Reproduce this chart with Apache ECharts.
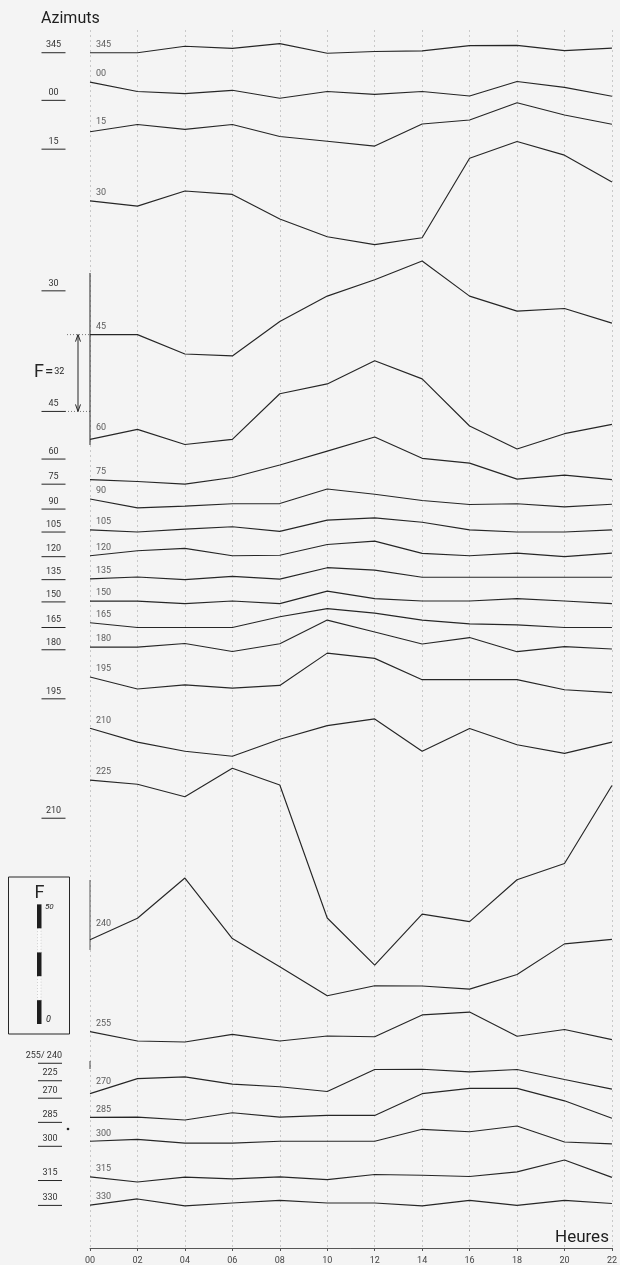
<!DOCTYPE html>
<html><head><meta charset="utf-8">
<script src="https://cdn.jsdelivr.net/npm/echarts@6/dist/echarts.min.js"></script>
<style>html,body{margin:0;padding:0;background:#f4f4f4;}#c{width:620px;height:1265px;}</style>
</head><body><div id="c"></div>
<script>
// Hours of observation
const hours = ['00','02','04','06','08','10','12','14','16','18','20','22'];
// Curve levels in F units above the time axis, per azimuth
const azimuthNames = ['345','00','15','30','45','60','75','90','105','120','135','150','165','180','195','210','225','240','255','270','285','300','315','330'];
const az345 = [499.5,499.5,502.2,501.3,503.3,499.3,500.0,500.3,502.5,502.6,500.4,501.4];
const az000 = [487.2,483.3,482.4,483.8,480.5,483.3,482.1,483.3,481.4,487.5,485.0,481.3];
const az015 = [466.5,469.5,467.5,469.5,464.5,462.5,460.5,469.7,471.4,478.6,473.5,469.6];
const az030 = [437.6,435.4,441.7,440.3,430.0,422.6,419.3,422.2,455.4,462.4,456.7,445.5];
const az045 = [381.7,381.7,373.6,372.8,387.2,397.8,404.6,412.5,397.8,391.5,392.6,386.5];
const az060 = [337.9,342.1,335.8,337.9,357.0,361.1,370.8,363.2,343.5,333.9,340.3,344.2];
const az075 = [321.1,320.3,319.2,322.0,327.2,333.0,338.9,330.0,328.0,321.3,323.0,321.1];
const az090 = [313.0,309.3,310.0,311.0,311.1,317.2,315.0,312.4,310.7,311.0,309.7,310.8];
const az105 = [300.1,299.2,300.4,301.4,299.5,304.2,305.1,303.3,300.1,299.2,299.2,300.1];
const az120 = [289.3,291.4,292.4,289.3,289.5,294.0,295.4,290.3,289.3,290.4,288.9,290.4];
const az135 = [279.6,280.4,279.3,280.7,279.5,284.3,283.3,280.3,280.3,280.3,280.3,280.3];
const az150 = [270.3,270.3,269.3,270.4,269.3,274.5,271.4,270.4,270.4,271.4,270.4,269.3];
const az165 = [261.3,259.3,259.3,259.3,263.8,267.2,265.3,262.4,260.8,260.4,259.3,259.3];
const az180 = [251.1,251.1,252.6,249.3,252.5,262.4,257.4,252.4,255.1,249.2,251.3,250.3];
const az195 = [238.6,233.6,235.3,234.0,235.1,248.6,246.4,237.5,237.5,237.5,233.3,232.1];
const az210 = [217.2,211.4,207.6,205.5,212.6,218.3,221.1,207.6,217.1,210.3,206.7,211.4];
const az225 = [195.5,193.8,188.6,200.5,193.5,137.9,118.2,139.5,136.4,153.9,160.7,193.3];
const az240 = [128.8,137.8,154.6,129.3,117.5,105.4,109.6,109.5,108.2,114.3,127.1,129.0];
const az255 = [90.4,86.5,86.1,89.3,86.5,88.6,88.3,97.4,98.6,88.5,91.3,87.1];
const az270 = [64.5,70.8,71.5,68.5,67.4,65.4,74.6,74.7,73.6,74.6,70.4,66.4];
const az285 = [54.6,54.7,53.5,56.5,54.7,55.4,55.4,64.5,66.7,66.7,61.5,54.2];
const az300 = [44.6,45.4,43.8,43.8,44.6,44.6,44.6,49.6,48.6,51.0,44.3,43.5];
const az315 = [29.7,27.6,29.6,28.9,29.7,28.6,30.7,30.4,29.9,31.8,36.8,29.5];
const az330 = [17.9,20.5,17.6,18.8,19.9,18.8,18.8,17.6,19.9,17.8,19.9,18.6];
// Reference (zero) marks drawn in the left margin
const baselineLabels = ['345','00','15','30','45','60','75','90','105','120','135','150','165','180','195','210','255/ 240','225','270','285','300','315','330'];
const baselineLevels = [499.5,479.6,459.2,400.0,349.6,329.7,319.2,308.8,299.2,288.9,279.3,270.0,259.3,250.0,229.5,179.6,77.2,69.9,62.6,52.5,42.5,28.2,17.8];
// F scale
const scaleMax = 50;
const scaleLabels = ['50','0'];

const allLevels = [az345,az000,az015,az030,az045,az060,az075,az090,az105,az120,az135,az150,az165,az180,az195,az210,az225,az240,az255,az270,az285,az300,az315,az330];
// extra lift (px) of a few curve-name labels that sit higher above their curve start
const labelLift = {'15':-10, '60':-12, '240':-16, '270':-12};

const chart = echarts.init(document.getElementById('c'), null, {renderer:'canvas'});
const ink = '#262626';
const series = allLevels.map((d, i) => ({
  type:'line', name:azimuthNames[i], data:d, showSymbol:false, symbol:'none',
  lineStyle:{color:ink, width:1.15}, silent:true, z:3
}));
series.push({
  type:'scatter', name:'startLabels', symbolSize:0, silent:true, z:4,
  data: allLevels.map((d, i) => ({value:[0, d[0]], name:azimuthNames[i],
    label:{offset:[1, labelLift[azimuthNames[i]] !== undefined ? labelLift[azimuthNames[i]] : -8]}})),
  label:{show:true, position:'right', fontSize:9, color:'#333', fontFamily:'Roboto',
    formatter: p => p.name}
});
series.push({
  type:'custom', name:'baselines', silent:true, z:4, clip:false,
  data: baselineLevels.map((v, i) => [0, v, i]),
  renderItem: (params, api) => {
    const p = api.coord([0, api.value(1)]);
    const idx = api.value(2);
    const lower = api.value(1) < 100;
    const xa = lower ? p[0]-52 : p[0]-48.5;
    const xb = lower ? p[0]-28 : p[0]-24.5;
    const lab = baselineLabels[idx];
    const slash = lab.indexOf('/') >= 0;
    return {type:'group', children:[
      {type:'line', shape:{x1:xa, y1:p[1], x2:xb, y2:p[1]}, style:{stroke:ink, lineWidth:1}},
      {type:'text', x: slash ? xb : (xa+xb)/2, y:p[1]-3,
        style:{text:lab, fill:'#333', font:'9px Roboto', align: slash ? 'right' : 'center', verticalAlign:'bottom'}}
    ]};
  }
});

chart.setOption({
  backgroundColor:'#f4f4f4',
  animation:false,
  grid:{left:90, right:3, top:30, bottom:13},
  xAxis:{type:'category', data:hours, boundaryGap:false,
    axisLine:{show:true, lineStyle:{color:'#555', width:1}},
    axisTick:{show:true, length:3, lineStyle:{color:'#555'}},
    axisLabel:{fontSize:9, color:'#444', margin:8, fontFamily:'Roboto', showMaxLabel:true},
    splitLine:{show:true, lineStyle:{color:'#ababab', width:0.6, type:[2,3]}}},
  yAxis:{type:'value', min:0, max:509, show:false, splitLine:{show:false}},
  series: series
});

const yPx = v => chart.convertToPixel({yAxisIndex:0}, v);
const x0 = chart.convertToPixel({xAxisIndex:0}, 0);
const yTop = yPx(az045[0]);
const yBot = yPx(baselineLevels[4]);
const bx = 78;
const barBottom = 1024;
const unitPx = yPx(0) - yPx(1);
const segLen = scaleMax/5*unitPx;
const g = [
  {type:'text', x:41, y:19, style:{text:'Azimuts', font:'16px Roboto', fill:'#1e1e1e', verticalAlign:'middle'}},
  {type:'text', x:555, y:1238, style:{text:'Heures', font:'17px Roboto', fill:'#1e1e1e', verticalAlign:'middle'}},
  // F = 32 bracket
  {type:'line', shape:{x1:bx, y1:yTop, x2:bx, y2:yBot}, style:{stroke:ink, lineWidth:1}},
  {type:'polyline', shape:{points:[[bx-2.5,yTop+7],[bx,yTop],[bx+2.5,yTop+7]]}, style:{stroke:ink, lineWidth:1, fill:null}},
  {type:'polyline', shape:{points:[[bx-2.5,yBot-7],[bx,yBot],[bx+2.5,yBot-7]]}, style:{stroke:ink, lineWidth:1, fill:null}},
  {type:'line', shape:{x1:67, y1:yTop, x2:x0, y2:yTop}, style:{stroke:'#555', lineWidth:0.8, lineDash:[1,2]}},
  {type:'line', shape:{x1:65, y1:yBot, x2:x0, y2:yBot}, style:{stroke:'#555', lineWidth:0.8, lineDash:[1,2]}},
  {type:'line', shape:{x1:x0, y1:273, x2:x0, y2:445}, style:{stroke:ink, lineWidth:1}},
  {type:'line', shape:{x1:x0, y1:880, x2:x0, y2:950}, style:{stroke:'#444', lineWidth:0.9}},
  {type:'line', shape:{x1:x0, y1:1061, x2:x0, y2:1069}, style:{stroke:'#444', lineWidth:1}},
  {type:'text', x:34, y:(yTop+yBot)/2+8, style:{
    text:'{f|F}{e|=}{n|32}', verticalAlign:'bottom', fill:ink,
    rich:{f:{fontSize:18, fontFamily:'Roboto', fill:ink}, e:{fontSize:15, fontFamily:'Roboto', fill:ink, padding:[0,1,0,1]}, n:{fontSize:9, fontFamily:'Roboto', fill:ink}}}},
  // Scale box
  {type:'rect', shape:{x:8.5, y:877, width:61, height:157}, style:{stroke:ink, lineWidth:1, fill:null}},
  {type:'text', x:34.5, y:893, style:{text:'F', font:'18px Roboto', fill:ink, verticalAlign:'middle'}},
  {type:'text', x:45, y:barBottom-5*segLen+3, style:{text:scaleLabels[0], font:'italic 8px Roboto', fill:ink, verticalAlign:'middle'}},
  {type:'text', x:46, y:barBottom-4, style:{text:scaleLabels[1], font:'italic 9px Roboto', fill:ink, verticalAlign:'middle'}},
  {type:'circle', shape:{cx:68, cy:1129, r:1.3}, style:{fill:ink}}
];
for (let k = 0; k < 5; k++) {
  const y = barBottom - (k+1)*segLen;
  if (k % 2 === 0) g.push({type:'rect', shape:{x:37, y:y, width:4.5, height:segLen}, style:{fill:'#1e1e1e'}});
  else g.push({type:'rect', shape:{x:37.5, y:y, width:3.5, height:segLen}, style:{fill:'#fafafa', stroke:'#aaa', lineWidth:0.5, lineDash:[1,2]}});
}
chart.setOption({graphic:g});
</script></body></html>
